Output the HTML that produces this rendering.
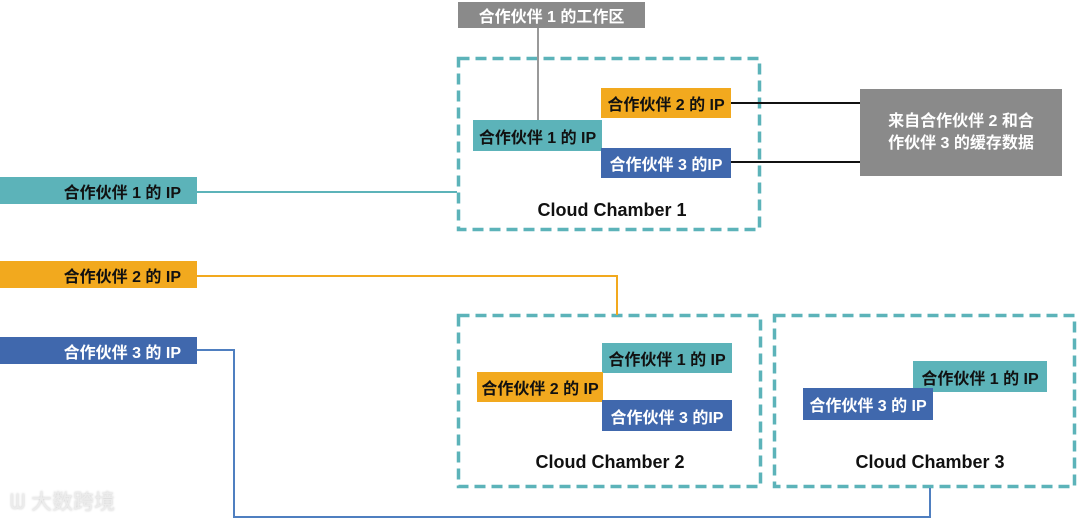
<!DOCTYPE html>
<html><head><meta charset="utf-8"><style>
body{margin:0;width:1080px;height:520px;background:#fff;position:relative;overflow:hidden;font-family:"Liberation Sans","Noto Sans CJK SC",sans-serif;}
.b{position:absolute;font-weight:bold;font-size:16px;display:flex;align-items:center;justify-content:center;white-space:nowrap;}
.t{background:#5cb3b9;color:#111;}
.o{background:#f2a91e;color:#111;}
.u{background:#4068ad;color:#fff;}
.g{background:#8a8a8a;color:#fff;}
.l{position:absolute;}
.c{position:absolute;font-size:18px;font-weight:bold;color:#111;text-align:center;}
</style></head><body>
<svg style="position:absolute;left:0;top:0" width="1080" height="520">
<g fill="none" stroke="#5cb3b9" stroke-width="3.5" stroke-dasharray="11 6">
<rect x="458.5" y="58.5" width="301" height="171"/>
<rect x="458.5" y="315.5" width="302" height="171"/>
<rect x="774.5" y="315.5" width="300" height="171"/>
</g></svg>
<div class="l" style="left:537px;top:28px;width:2px;height:94px;background:#999"></div>
<div class="b g" style="left:458px;top:2px;width:187px;height:26px">合作伙伴 1 的工作区</div>
<div class="l" style="left:731px;top:102px;width:129px;height:2px;background:#111"></div>
<div class="l" style="left:731px;top:161px;width:129px;height:2px;background:#111"></div>
<div class="b o" style="left:601px;top:88px;width:130px;height:30px">合作伙伴 2 的 IP</div>
<div class="b t" style="left:473px;top:120px;width:129px;height:31px">合作伙伴 1 的 IP</div>
<div class="b u" style="left:601px;top:148px;width:130px;height:30px">合作伙伴 3 的IP</div>
<div class="b g" style="left:860px;top:89px;width:202px;height:87px;flex-direction:column;line-height:22px">来自合作伙伴 2 和合<br>作伙伴 3 的缓存数据</div>
<div class="c" style="left:457px;top:200px;width:310px">Cloud Chamber 1</div>
<div class="l" style="left:197px;top:191px;width:260px;height:2px;background:#5cb3b9"></div>
<div class="l" style="left:197px;top:275px;width:420px;height:2px;background:#f2a91e"></div>
<div class="l" style="left:616px;top:275px;width:2px;height:40px;background:#f2a91e"></div>
<div class="l" style="left:197px;top:349px;width:37px;height:2px;background:#4f7fc0"></div>
<div class="l" style="left:233px;top:349px;width:2px;height:169px;background:#4f7fc0"></div>
<div class="l" style="left:233px;top:516px;width:698px;height:2px;background:#4f7fc0"></div>
<div class="l" style="left:929px;top:488px;width:2px;height:30px;background:#4f7fc0"></div>
<div class="b t" style="left:0;top:177px;width:197px;height:27px;justify-content:flex-end;padding-right:16px;box-sizing:border-box">合作伙伴 1 的 IP</div>
<div class="b o" style="left:0;top:261px;width:197px;height:27px;justify-content:flex-end;padding-right:16px;box-sizing:border-box">合作伙伴 2 的 IP</div>
<div class="b u" style="left:0;top:337px;width:197px;height:27px;justify-content:flex-end;padding-right:16px;box-sizing:border-box">合作伙伴 3 的 IP</div>
<div class="b t" style="left:602px;top:343px;width:130px;height:30px">合作伙伴 1 的 IP</div>
<div class="b o" style="left:477px;top:372px;width:126px;height:30px">合作伙伴 2 的 IP</div>
<div class="b u" style="left:602px;top:400px;width:130px;height:31px">合作伙伴 3 的IP</div>
<div class="c" style="left:457px;top:452px;width:306px">Cloud Chamber 2</div>
<div class="b t" style="left:913px;top:361px;width:134px;height:31px">合作伙伴 1 的 IP</div>
<div class="b u" style="left:803px;top:388px;width:130px;height:32px">合作伙伴 3 的 IP</div>
<div class="c" style="left:773px;top:452px;width:314px">Cloud Chamber 3</div>
<div style="position:absolute;left:10px;top:486px;font-size:21px;color:#ececec;text-shadow:0 0 2px #c8c8c8">ᗯ 大数跨境</div>
</body></html>
